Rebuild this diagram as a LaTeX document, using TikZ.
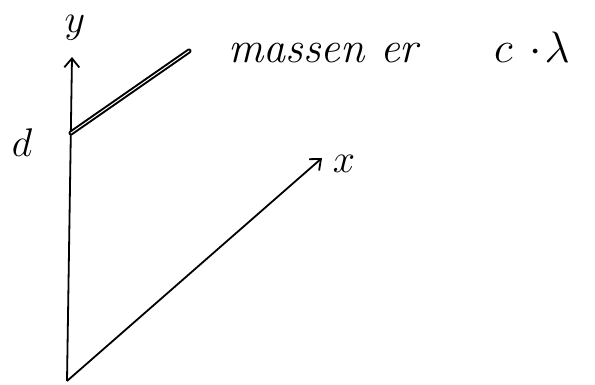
\RequirePackage{fix-cm}
\documentclass[tikz,border=0pt]{standalone}
\usepackage{amsmath}
\usepackage{tikz}
\usetikzlibrary{arrows.meta, positioning, calc}

\begin{document}
\begin{tikzpicture}[x=1pt,y=-1pt,
  axis/.style={line width=1.8pt,-{Straight Barb[length=9pt,width=15pt,line width=1.8pt]}},
  rod/.style={double=white,double distance=1pt,line width=2pt,line cap=round},
  lbl/.style={font=\fontsize{40}{44}\selectfont,inner sep=0pt},
  txt/.style={font=\fontsize{44}{50}\selectfont,inner sep=0pt}]
  \useasboundingbox (0,0) rectangle (595,385);

  % Axes points
  \coordinate (O) at (67,381);
  \coordinate (Ytip) at (72,57);
  \coordinate (Xtip) at (322,158);

  % Rod from d on the y axis
  \coordinate (D) at (71,133);
  \coordinate (R) at (189,51);

  % Draw axes
  \draw[axis] (O) -- (Ytip);
  \draw[axis] (O) -- (Xtip);

  % Draw rod
  \draw[rod] (D) -- (R);

  % Labels
  \node[lbl,anchor=base] (ylab) at (75,33) {$y$};
  \node[lbl,anchor=base] (dlab) at (22,157) {$d$};
  \node[lbl,anchor=base] (xlab) at (344,173) {$x$};

  % Mass text
  \node[txt,anchor=base west] (mass) at (228,63) {\itshape massen er};
  \node[txt,anchor=base west] (cl) at (494,63) {$c\,\cdot\!\lambda$};
\end{tikzpicture}
\end{document}
